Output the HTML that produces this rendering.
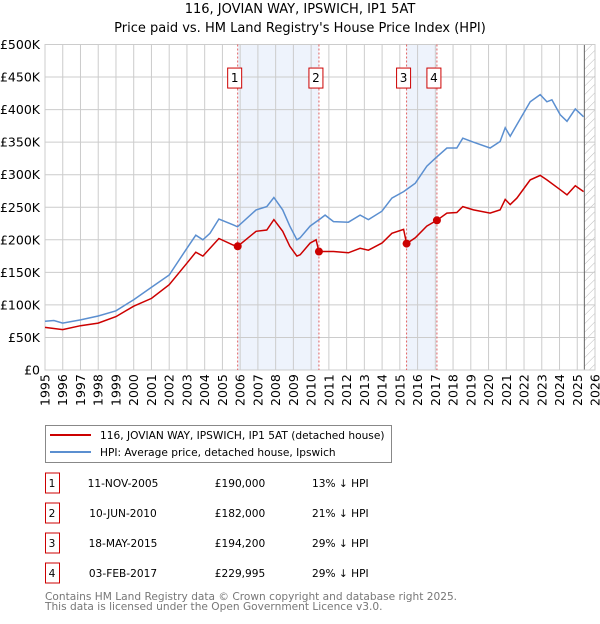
<!DOCTYPE html>
<html><head><meta charset="utf-8"><style>
body{margin:0;background:#fff;font-family:"DejaVu Sans","Liberation Sans",sans-serif;}
svg text{font-family:"DejaVu Sans","Liberation Sans",sans-serif;}
</style></head><body>
<svg id="c" width="600" height="620" xmlns="http://www.w3.org/2000/svg">
<defs><pattern id="hatch" width="6" height="6" patternUnits="userSpaceOnUse" patternTransform="rotate(45)"><line x1="0" y1="0" x2="0" y2="6" stroke="#bbb" stroke-width="1"/></pattern></defs>
<text x="300" y="13" text-anchor="middle" font-size="13">116, JOVIAN WAY, IPSWICH, IP1 5AT</text>
<text x="300" y="32" text-anchor="middle" font-size="13">Price paid vs. HM Land Registry's House Price Index (HPI)</text>
<g id="plot"></g>
<g>
<rect x="45.5" y="425.5" width="346" height="37" fill="#fff" stroke="#888"/>
<line x1="50" y1="435" x2="91" y2="435" stroke="#cc0000" stroke-width="2"/>
<text x="100" y="439" font-size="10.6">116, JOVIAN WAY, IPSWICH, IP1 5AT (detached house)</text>
<line x1="50" y1="452" x2="91" y2="452" stroke="#5b8fd0" stroke-width="2"/>
<text x="100" y="456" font-size="10.6">HPI: Average price, detached house, Ipswich</text>
</g>
<g id="table" font-size="10.6"></g>
<text x="45" y="600" font-size="10.6" fill="#777">Contains HM Land Registry data © Crown copyright and database right 2025.</text>
<text x="45" y="610" font-size="10.6" fill="#777">This data is licensed under the Open Government Licence v3.0.</text>
</svg>
<script>
const hpiYears=[1995,1995.5,1996,1997,1998,1999,2000,2001,2002,2003,2003.5,2003.9,2004.3,2004.8,2005.6,2005.85,2006.9,2007.5,2007.9,2008.4,2008.8,2009.2,2009.38,2009.94,2010.5,2010.79,2011.26,2012.1,2012.76,2013.23,2013.99,2014.55,2015.21,2015.87,2016.52,2016.99,2017.65,2018.21,2018.55,2019.15,2020.09,2020.65,2020.94,2021.22,2021.6,2022.35,2022.91,2023.29,2023.57,2024.04,2024.42,2024.89,2025.36];
const hpiValues=[75,76,72,77,83,91,108,127,146,187,207,200,210,232,223,220,246,251,265,246,221,200,203,221,232,238,228,227,238,231,244,264,274,287,313,325,341,341,356,350,341,351,372,359,377,412,423,412,415,392,382,401,389];
const priceYears=[1995,1996,1997,1998,1999,2000,2001,2002,2003,2003.5,2003.9,2004.8,2005.6,2005.86,2006.9,2007.5,2007.9,2008.4,2008.8,2009.2,2009.38,2009.94,2010.28,2010.44,2011.26,2012.1,2012.76,2013.23,2013.99,2014.55,2015.21,2015.38,2015.87,2016.52,2017.09,2017.65,2018.21,2018.55,2019.15,2020.09,2020.65,2020.94,2021.22,2021.6,2022.35,2022.91,2023.29,2024.04,2024.42,2024.89,2025.36];
const priceValues=[65.5,62,68,72,82,98,110,131,164,181,175,202,192,190,213,215,231,213,190,175,177,195,200,182,182,180,187,184,195,210,216,194.2,203,221,230,241,242,251,246,241,246,262,254,264,292,299,292,277,269,283,274];
const saleLabels=["1","2","3","4"];
const saleYears=[2005.86,2010.44,2015.38,2017.09];
const saleValues=[190,182,194.2,229.995];
const saleDates=["11-NOV-2005","10-JUN-2010","18-MAY-2015","03-FEB-2017"];
const salePrices=["£190,000","£182,000","£194,200","£229,995"];
const saleDiffs=["13% ↓ HPI","21% ↓ HPI","29% ↓ HPI","29% ↓ HPI"];
const yTicks=[0,50,100,150,200,250,300,350,400,450,500];
const yTickLabels=["£0","£50K","£100K","£150K","£200K","£250K","£300K","£350K","£400K","£450K","£500K"];
const xTicks=[];for(let y=1995;y<=2026;y++)xTicks.push(y);
const X0=45,X1=595,Y0=370,Y1=44.5;
const xs=y=>X0+(y-1995)*(X1-X0)/31;
const ys=v=>Y0-v*(Y0-Y1)/500;
const NS="http://www.w3.org/2000/svg";
const plot=document.getElementById('plot');
function mk(tag,attrs,parent){const e=document.createElementNS(NS,tag);for(const k in attrs)e.setAttribute(k,attrs[k]);(parent||plot).appendChild(e);return e;}
let e;
for(const [a,b] of [[0,1],[2,3]]){
 e=mk('rect',{x:xs(saleYears[a]),y:Y1,width:xs(saleYears[b])-xs(saleYears[a]),height:Y0-Y1,fill:'#eef3fc'});
 
 
}
const hx=xs(2025.4);
e=mk('rect',{x:hx,y:Y1,width:X1-hx,height:Y0-Y1,fill:'url(#hatch)'});


xTicks.forEach(t=>{
 e=mk('line',{x1:xs(t),x2:xs(t),y1:Y1,y2:Y0,stroke:'#cccccc','stroke-width':1});
 
 
 e=mk('text',{x:0,y:0,transform:`translate(${xs(t)+4.5},${Y0+36}) rotate(-90)`,'font-size':12.5});
 e.textContent=t;
 
 
});
yTicks.forEach((t,i)=>{
 e=mk('line',{x1:X0,x2:X1,y1:ys(t),y2:ys(t),stroke:'#cccccc','stroke-width':1});
 
 
 e=mk('text',{x:X0-5,y:ys(t)+4.5,'text-anchor':'end','font-size':12.5});
 e.textContent=yTickLabels[i];
 
 
});
e=mk('line',{x1:hx,x2:hx,y1:Y1,y2:Y0,stroke:'#666','stroke-width':1});


e=mk('rect',{x:X0,y:Y1,width:X1-X0,height:Y0-Y1,fill:'none',stroke:'#cccccc'});


saleYears.forEach((s,i)=>{
 e=mk('line',{x1:xs(s),x2:xs(s),y1:Y1,y2:Y0,stroke:'#e06060','stroke-width':1,'stroke-dasharray':'2,2'});
 
 
 const bx=xs(s)-3;
 e=mk('rect',{x:bx-7,y:ys(450)-9,width:14,height:20,fill:'#fff',stroke:'#cc0000'});
 
 
 e=mk('text',{x:bx,y:ys(450)+5,'text-anchor':'middle','font-size':12});
 e.textContent=saleLabels[i];
 
 
});
e=mk('path',{d:hpiYears.map((y,i)=>(i?'L':'M')+xs(y).toFixed(1)+','+ys(hpiValues[i]).toFixed(1)).join(''),fill:'none',stroke:'#5b8fd0','stroke-width':1.5});


e=mk('path',{d:priceYears.map((y,i)=>(i?'L':'M')+xs(y).toFixed(1)+','+ys(priceValues[i]).toFixed(1)).join(''),fill:'none',stroke:'#cc0000','stroke-width':1.5});


saleYears.forEach((s,i)=>{
 e=mk('circle',{cx:xs(s),cy:ys(saleValues[i]),r:4,fill:'#cc0000'});
 
 
});
const tb=document.getElementById('table');
saleLabels.forEach((l,i)=>{
 const cy=483+30*i;
 e=mk('rect',{x:45.5,y:cy-10,width:14,height:20,fill:'#fff',stroke:'#cc0000'},tb);
 
 
 const cells=[[52,l,'middle'],[123,saleDates[i],'middle'],[240,salePrices[i],'middle'],[312,saleDiffs[i],'start']];
 cells.forEach(c=>{
  e=mk('text',{x:c[0],y:cy+4,'text-anchor':c[2]},tb);
  e.textContent=c[1];
  
  
 });
});
</script>
</body></html>
